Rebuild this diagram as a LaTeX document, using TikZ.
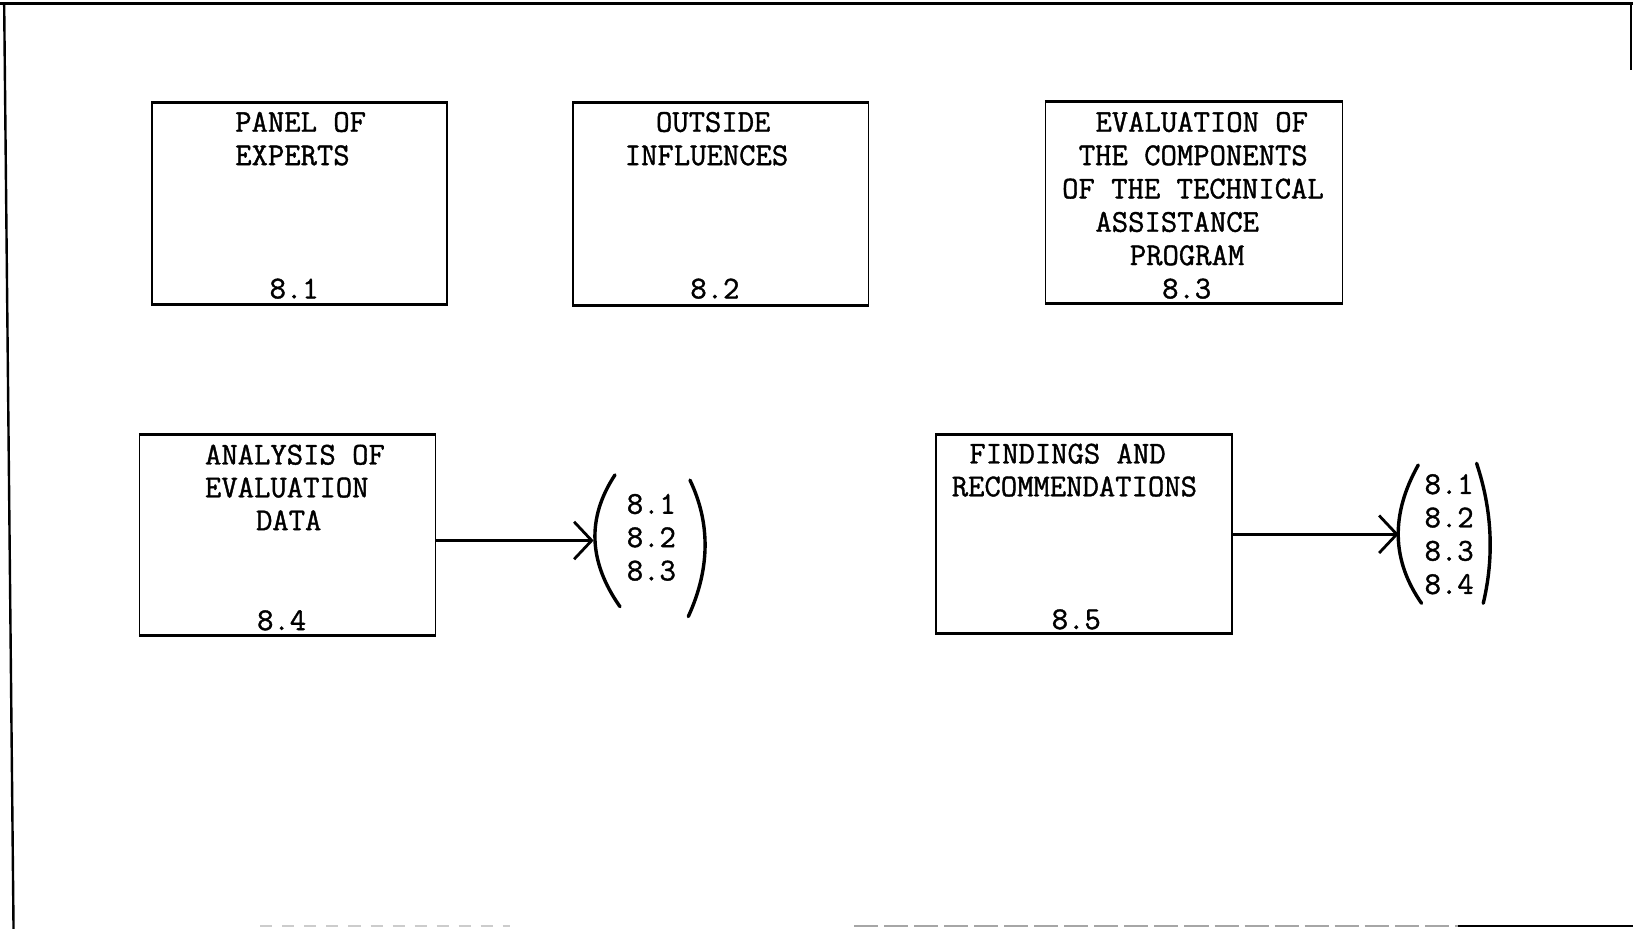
\documentclass[tikz,border=0pt]{standalone}
\usepackage{fontspec}
\newfontfamily\typew{Latin Modern Mono}[UprightFeatures={FakeBold=1.2}]
\usetikzlibrary{arrows.meta}
\begin{document}
\begin{tikzpicture}[x=0.52pt,y=-0.52pt,
  box/.style={draw, line width=0.8pt, minimum width=284*0.52pt, minimum height=192*0.52pt, inner sep=0pt},
  tb/.style={line width=1.3pt},
  lbl/.style={font=\typew\fontsize{15.85}{16.6}\selectfont, anchor=base west, inner sep=0pt},
  arr/.style={line width=1.5pt, -{Straight Barb[length=8.8pt,width=18.7pt,line width=1.4pt]}},
  paren/.style={line width=1.7pt, line cap=round},
  frame/.style={line width=1.2pt}]
\useasboundingbox (0,0) rectangle (1568,892);
% outer frame
\draw[frame, line width=1.5pt] (0,3) -- (1568,3);
\draw[frame] (4,3) -- (13,892);
\draw[frame] (1566,3) -- (1566,67);
\draw[gray!40, line width=0.8pt, dash pattern=on 6pt off 5pt] (250,889) -- (490,889);
\draw[gray!70, line width=1pt, dash pattern=on 12pt off 3pt] (820,889) -- (1400,889);
\draw[frame] (1400,889) -- (1568,889);
% boxes
\node[box, minimum width=283*0.52pt, minimum height=193*0.52pt] (b1) at (287.5,195.5) {};
\node[box, minimum width=284*0.52pt, minimum height=194*0.52pt] (b2) at (692,196) {};
\node[box, minimum width=285*0.52pt, minimum height=193*0.52pt] (b3) at (1146.5,194.5) {};
\node[box, minimum width=284*0.52pt, minimum height=192*0.52pt] (b4) at (276,514) {};
\node[box, minimum width=284*0.52pt, minimum height=190*0.52pt] (b5) at (1041,513) {};
\foreach \b in {b1,b2,b3,b4,b5}{
  \draw[tb] (\b.north west) -- (\b.north east);
  \draw[tb] (\b.south west) -- (\b.south east);
}
% box 8.1
\node[lbl] (t1a) at (225.5,126.5) {PANEL OF};
\node[lbl] (t1b) at (225.5,158.5) {EXPERTS};
\node[lbl] (t1c) at (258.5,286.5) {8.1};
% box 8.2
\node[lbl] (t2a) at (629.5,126.5) {OUTSIDE};
\node[lbl] (t2b) at (599.5,158.5) {INFLUENCES};
\node[lbl] (t2c) at (662.5,286.5) {8.2};
% box 8.3
\node[lbl] (t3a) at (1051.5,126.5) {EVALUATION OF};
\node[lbl] (t3b) at (1035.5,158.5) {THE COMPONENTS};
\node[lbl] (t3c) at (1019.5,190.5) {OF THE TECHNICAL};
\node[lbl] (t3d) at (1051.5,222.5) {ASSISTANCE};
\node[lbl] (t3e) at (1084.5,254.5) {PROGRAM};
\node[lbl] (t3f) at (1115.5,286.5) {8.3};
% box 8.4
\node[lbl] (t4a) at (196.5,446) {ANALYSIS OF};
\node[lbl] (t4b) at (196.5,477.5) {EVALUATION};
\node[lbl] (t4c) at (245.5,509) {DATA};
\node[lbl] (t4d) at (246.5,605) {8.4};
% box 8.5
\node[lbl] (t5a) at (930.5,445) {FINDINGS AND};
\node[lbl] (t5b) at (913.5,476.5) {RECOMMENDATIONS};
\node[lbl] (t5c) at (1009.5,604) {8.5};
% bracket group 1
\node[lbl] (g1a) at (601.5,493.3) {8.1};
\node[lbl] (g1b) at (601.5,525.3) {8.2};
\node[lbl] (g1c) at (601.5,557.3) {8.3};
% bracket group 2
\node[lbl] (g2a) at (1367.5,474.3) {8.1};
\node[lbl] (g2b) at (1367.5,506.3) {8.2};
\node[lbl] (g2c) at (1367.5,538.3) {8.3};
\node[lbl] (g2d) at (1367.5,570.3) {8.4};
% arrows
\coordinate (a1e) at (570,519);
\coordinate (a2e) at (1343,513);
\draw[arr] (b4.east |- a1e) -- (a1e);
\draw[arr] (b5.east |- a2e) -- (a2e);
% parentheses
\draw[paren] (590.5,456) .. controls (563.3,497.2) and (564.9,539.3) .. (595.3,582.5);
\draw[paren] (662.5,461) .. controls (682.4,502.7) and (681.8,546.3) .. (660.9,592);
\draw[paren] (1361.8,446.5) .. controls (1335.1,494) and (1336.2,538.2) .. (1365,579.3);
\draw[paren] (1417.8,444.9) .. controls (1432.7,489.6) and (1434.9,534.3) .. (1424.2,579.3);
\end{tikzpicture}
\end{document}
